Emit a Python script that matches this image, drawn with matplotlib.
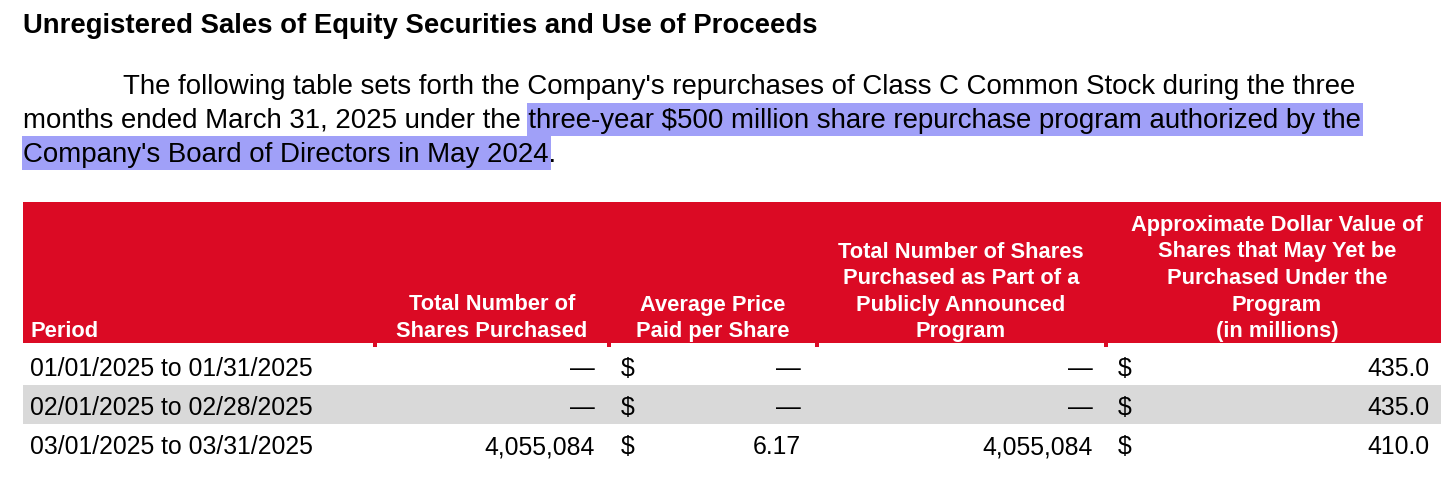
import matplotlib
matplotlib.use('Agg')
import matplotlib.pyplot as plt
from matplotlib.patches import Rectangle

plt.rcParams['font.family'] = ['Liberation Sans', 'DejaVu Sans']

# ---- content ----
title = "Unregistered Sales of Equity Securities and Use of Proceeds"
para_lines = [
    "The following table sets forth the Company's repurchases of Class C Common Stock during the three",
    "months ended March 31, 2025 under the three-year $500 million share repurchase program authorized by the",
    "Company's Board of Directors in May 2024.",
]
highlight_line2 = "three-year $500 million share repurchase program authorized by the"
highlight_line3 = "Company's Board of Directors in May 2024"

header_period = "Period"
headers = [
    ["Total Number of", "Shares Purchased"],
    ["Average Price", "Paid per Share"],
    ["Total Number of Shares", "Purchased as Part of a", "Publicly Announced", "Program"],
    ["Approximate Dollar Value of", "Shares that May Yet be", "Purchased Under the", "Program", "(in millions)"],
]
periods = ["01/01/2025 to 01/31/2025", "02/01/2025 to 02/28/2025", "03/01/2025 to 03/31/2025"]
shares_purchased = ["\u2014", "\u2014", "4,055,084"]
avg_price = ["\u2014", "\u2014", "6.17"]
program_shares = ["\u2014", "\u2014", "4,055,084"]
remaining_value = ["435.0", "435.0", "410.0"]

# ---- colours ----
RED = '#db0a24'
GRAY = '#d9d9d9'
HILITE = '#a0a0f8'

W, H = 1456, 482
fig = plt.figure(figsize=(W / 100, H / 100), dpi=100)
ax = fig.add_axes([0, 0, 1, 1])
ax.set_xlim(0, W)
ax.set_ylim(H, 0)
ax.axis('off')
renderer = fig.canvas.get_renderer()


def width_of(t):
    return t.get_window_extent(renderer).width


def fit(t, target):
    t.set_fontsize(t.get_fontsize() * target / width_of(t))
    return t.get_fontsize()


# title
tt = ax.text(23, 33, title, fontsize=18, fontweight='bold', va='baseline', color='black', zorder=3)
fit(tt, 795)

# paragraph
t2 = ax.text(23, 128, para_lines[1], fontsize=19, va='baseline', color='black', zorder=3)
pfs = fit(t2, 1340)
ax.text(123, 94, para_lines[0], fontsize=pfs, va='baseline', color='black', zorder=3)
t3 = ax.text(23, 162, para_lines[2], fontsize=pfs, va='baseline', color='black', zorder=3)

tmp = ax.text(0, 0, highlight_line2, fontsize=pfs, va='baseline')
w_suf = width_of(tmp)
tmp.remove()
full_w = width_of(t2)
x2s = 23 + full_w - w_suf
ax.add_patch(Rectangle((x2s - 1, 103), 23 + full_w - x2s + 3, 33, color=HILITE, lw=0, zorder=1))
tmp = ax.text(0, 0, highlight_line3, fontsize=pfs, va='baseline')
w3 = width_of(tmp)
tmp.remove()
ax.add_patch(Rectangle((22, 136), w3 + 3, 34, color=HILITE, lw=0, zorder=1))

# header
hx0, hx1, hy0, hy1 = 23, 1441, 202, 343
ax.add_patch(Rectangle((hx0, hy0), hx1 - hx0, hy1 - hy0, color=RED, lw=0, zorder=1))
for xc in [375, 609, 817, 1106]:
    ax.add_patch(Rectangle((xc - 2, hy1), 4, 4, color=RED, lw=0, zorder=1))

probe = ax.text(0, 0, "Shares Purchased", fontsize=16, fontweight='bold', va='baseline')
hfs = fit(probe, 191)
probe.remove()

last_base = 337
spacing = 26.5
ax.text(30, last_base, header_period, fontsize=hfs, fontweight='bold', color='white',
        va='baseline', ha='left', zorder=3)
centers = [492, 713, 961, 1277]
for xc, lines in zip(centers, headers):
    n = len(lines)
    for i, ln in enumerate(lines):
        ax.text(xc, last_base - (n - 1 - i) * spacing, ln, fontsize=hfs, fontweight='bold',
                color='white', va='baseline', ha='center', zorder=3)

# body
probe = ax.text(0, 0, periods[0], fontsize=18, va='baseline')
bfs = fit(probe, 283)
probe.remove()

row_tops = [347, 385, 424]
row_h = [38, 39, 38]
baselines = [376, 415, 454]
for r in range(3):
    if r % 2 == 1:
        ax.add_patch(Rectangle((hx0, row_tops[r]), hx1 - hx0, row_h[r], color=GRAY, lw=0, zorder=1))
    b = baselines[r]
    kw = dict(fontsize=bfs, va='baseline', color='black', zorder=3)
    ax.text(30, b, periods[r], ha='left', **kw)
    ax.text(595, b, shares_purchased[r], ha='right', **kw)
    ax.text(621, b, "$", ha='left', **kw)
    ax.text(801, b, avg_price[r], ha='right', **kw)
    ax.text(1093, b, program_shares[r], ha='right', **kw)
    ax.text(1118, b, "$", ha='left', **kw)
    ax.text(1430, b, remaining_value[r], ha='right', **kw)

fig.savefig('out.png', dpi=100, facecolor='white')
